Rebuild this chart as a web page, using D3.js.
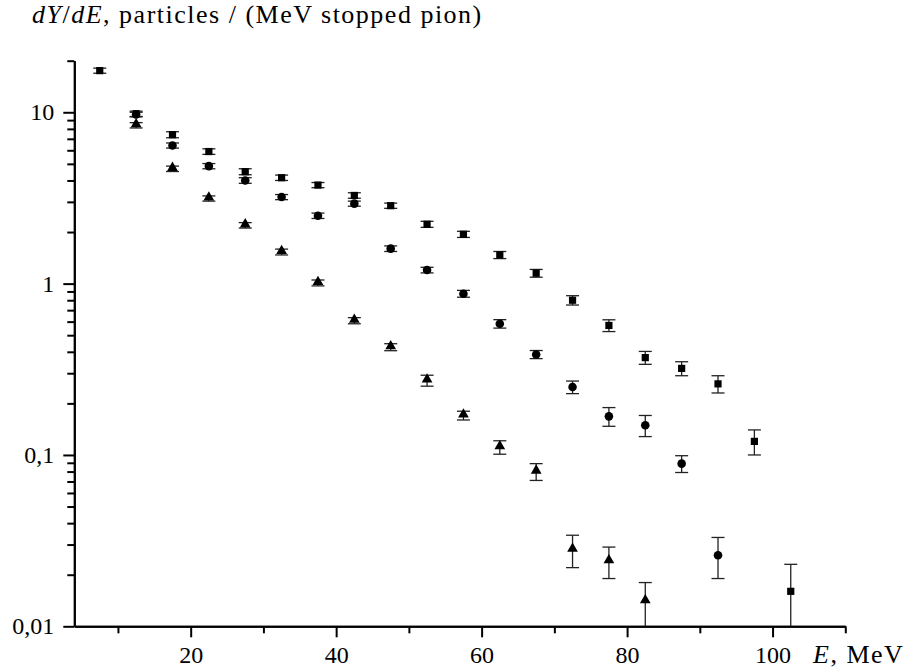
<!DOCTYPE html>
<html>
<head>
<meta charset="utf-8">
<script src="https://cdn.jsdelivr.net/npm/d3@7"></script>
<style>
  body { margin: 0; background: #fff; }
  svg { display: block; }
  .axis path, .axis line { stroke: #000; stroke-width: 2; }
  .err { stroke: #222; stroke-width: 1.3; fill: none; }
</style>
</head>
<body>
<svg class="chart"></svg>
<script>
// squares
var sqE   = [7.5, 12.5, 17.5, 22.5, 27.5, 32.5, 37.5, 42.5, 47.5, 52.5, 57.5, 62.5, 67.5, 72.5, 77.5, 82.5, 87.5, 92.5, 97.5, 102.5];
var sqY   = [17.5, 9.8, 7.4, 5.9, 4.5, 4.15, 3.76, 3.27, 2.85, 2.22, 1.94, 1.47, 1.15, 0.80, 0.57, 0.37, 0.32, 0.26, 0.12, 0.016];
var sqErr = [0.6, 0.35, 0.3, 0.22, 0.18, 0.15, 0.13, 0.12, 0.1, 0.09, 0.08, 0.07, 0.06, 0.05, 0.045, 0.032, 0.03, 0.03, 0.02, 0.007];

// circles
var ciE   = [12.5, 17.5, 22.5, 27.5, 32.5, 37.5, 42.5, 47.5, 52.5, 57.5, 62.5, 67.5, 72.5, 77.5, 82.5, 87.5, 92.5];
var ciY   = [9.7, 6.4, 4.85, 4.0, 3.2, 2.49, 2.93, 1.60, 1.20, 0.873, 0.583, 0.386, 0.249, 0.168, 0.149, 0.089, 0.026];
var ciErr = [0.3, 0.22, 0.17, 0.15, 0.11, 0.09, 0.1, 0.06, 0.045, 0.04, 0.033, 0.021, 0.021, 0.021, 0.021, 0.01, 0.007];

// triangles
var trE   = [12.5, 17.5, 22.5, 27.5, 32.5, 37.5, 42.5, 47.5, 52.5, 57.5, 62.5, 67.5, 72.5, 77.5, 82.5];
var trY   = [8.4, 4.68, 3.14, 2.19, 1.53, 1.01, 0.608, 0.426, 0.272, 0.170, 0.111, 0.080, 0.028, 0.024, 0.014];
var trErr = [0.3, 0.17, 0.11, 0.08, 0.06, 0.04, 0.025, 0.02, 0.02, 0.01, 0.01, 0.009, 0.006, 0.005, 0.004];

// axis ticks
var xMajor = [20, 40, 60, 80, 100];
var xMinor = [10, 30, 50, 70, 90, 110];
var yMajor = [0.01, 0.1, 1, 10];
var yMajorLabels = ["0,01", "0,1", "1", "10"];

var serif = "'Liberation Serif', 'Times New Roman', serif";
var width = 911, height = 669;

var chart = d3.select(".chart")
    .attr("width", width)
    .attr("height", height);

chart.append("rect").attr("width", width).attr("height", height).attr("fill", "#fff");

// Scales
var x = d3.scaleLinear().domain([4, 110]).range([74.3, 845.3]);
var y = d3.scaleLog().domain([0.01, 20]).range([626.3, 60.7]);

// minor ticks on log axis: 2..9 in each decade
var yMinor = [];
[0.01, 0.1, 1, 10].forEach(function(d) {
    for (var k = 2; k <= 9; k++) {
        if (d * k <= 20) yMinor.push(d * k);
    }
});

// X axis
chart.append("g")
    .attr("class", "axis")
    .attr("transform", "translate(0," + y(0.01) + ")")
    .call(d3.axisBottom(x).tickValues(xMinor).tickSize(7).tickSizeOuter(0).tickFormat(""));
var xAx = chart.append("g")
    .attr("class", "axis")
    .attr("transform", "translate(0," + y(0.01) + ")")
    .call(d3.axisBottom(x).tickValues(xMajor).tickSize(11).tickSizeOuter(0));
xAx.selectAll("text").attr("y", 37).attr("dy", null);

// Y axis
chart.append("g")
    .attr("class", "axis")
    .attr("transform", "translate(" + x(4) + ",0)")
    .call(d3.axisLeft(y).tickValues(yMinor).tickSize(7).tickSizeOuter(0).tickFormat(""));
chart.append("g")
    .attr("class", "axis")
    .attr("transform", "translate(" + x(4) + ",0)")
    .call(d3.axisLeft(y).tickValues(yMajor).tickSize(11).tickSizeOuter(0).tickPadding(9)
        .tickFormat(function(d, i) { return yMajorLabels[i]; }));

chart.selectAll(".axis text")
    .style("font-family", serif)
    .style("font-size", "24px")
    .attr("fill", "#000");

// Axis titles
var xt = chart.append("text")
    .attr("x", 813)
    .attr("y", 663)
    .style("font-family", serif)
    .style("font-size", "26px")
    .style("letter-spacing", "1.5px");
xt.append("tspan").style("font-style", "italic").text("E");
xt.append("tspan").text(", MeV");

var yt = chart.append("text")
    .attr("x", 32)
    .attr("y", 23)
    .style("font-family", serif)
    .style("font-size", "26px")
    .style("letter-spacing", "1.5px");
yt.append("tspan").style("font-style", "italic").text("dY");
yt.append("tspan").text("/");
yt.append("tspan").style("font-style", "italic").text("dE");
yt.append("tspan").text(", particles / (MeV stopped pion)");

// build series
function makeSeries(es, vs, errs) {
    return es.map(function(e, i) { return { e: e, v: vs[i], err: errs[i] }; });
}
var series = [
    { name: "square", data: makeSeries(sqE, sqY, sqErr) },
    { name: "circle", data: makeSeries(ciE, ciY, ciErr) },
    { name: "triangle", data: makeSeries(trE, trY, trErr) }
];

var cap = 6.5;
function lo(d) { return y(Math.max(d.v - d.err, 0.01)); }
function hi(d) { return y(d.v + d.err); }

series.forEach(function(s) {
    var g = chart.append("g").attr("class", "series-" + s.name);
    var eb = g.selectAll(".eb").data(s.data).enter().append("g").attr("class", "eb");
    eb.append("line").attr("class", "err")
        .attr("x1", function(d) { return x(d.e); })
        .attr("x2", function(d) { return x(d.e); })
        .attr("y1", lo).attr("y2", hi);
    eb.append("line").attr("class", "err")
        .attr("x1", function(d) { return x(d.e) - cap; })
        .attr("x2", function(d) { return x(d.e) + cap; })
        .attr("y1", hi).attr("y2", hi);
    eb.filter(function(d) { return d.v - d.err > 0.01; })
        .append("line").attr("class", "err")
        .attr("x1", function(d) { return x(d.e) - cap; })
        .attr("x2", function(d) { return x(d.e) + cap; })
        .attr("y1", lo).attr("y2", lo);

    var sym = s.name === "square" ? d3.symbolSquare : (s.name === "circle" ? d3.symbolCircle : d3.symbolTriangle);
    var size = s.name === "square" ? 52 : (s.name === "circle" ? 58 : 50);
    g.selectAll(".pt").data(s.data).enter().append("path")
        .attr("class", "pt")
        .attr("d", d3.symbol().type(sym).size(size))
        .attr("fill", "#000")
        .attr("transform", function(d) {
            var dy = s.name === "triangle" ? -1 : 0;
            return "translate(" + x(d.e) + "," + (y(d.v) + dy) + ")";
        });
});
</script>
</body>
</html>
